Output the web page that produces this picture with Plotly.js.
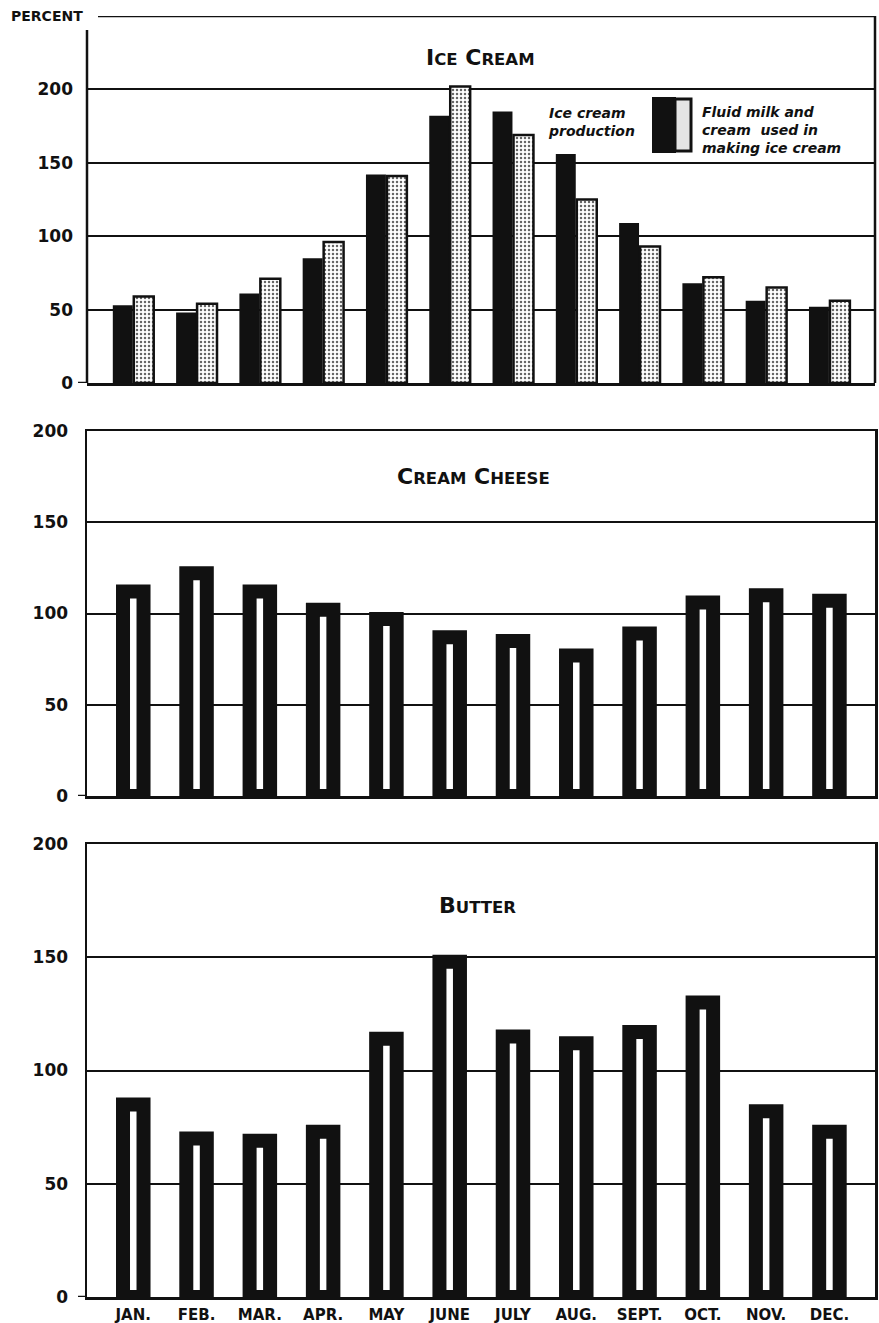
<!DOCTYPE html>
<html><head><meta charset="utf-8">
<script src="https://cdn.plot.ly/plotly-3.0.1.min.js"></script>
<style>html,body{margin:0;padding:0;background:#fff}</style>
</head><body><div id="chart" style="width:879px;height:1323px"></div>
<script>
// ---- data (percent of monthly average) ----
const months = ['JAN.','FEB.','MAR.','APR.','MAY','JUNE','JULY','AUG.','SEPT.','OCT.','NOV.','DEC.'];
const iceCreamProduction = [53, 48, 61, 85, 142, 182, 185, 156, 109, 68, 56, 52];
const fluidMilkCream     = [59, 54, 71, 96, 141, 202, 169, 125, 93, 72, 65, 56];
const creamCheese        = [112, 122, 112, 102, 97, 87, 85, 77, 89, 106, 110, 107];
const butter             = [85, 70, 69, 73, 114, 148, 115, 112, 117, 130, 82, 73];
const yTicks = [0, 50, 100, 150, 200];

// ---- layout geometry (pixels) ----
const W = 879, H = 1323, L = 87, R = 4, T = 16, B = 26;
const PW = W - L - R, PH = H - T - B;
const px = x => (x - L) / PW;
const py = y => (H - B - y) / PH;
const FONT = 'DejaVu Sans';
const INK = '#111';

const traces = [
  {type:'bar', x: months, y: iceCreamProduction, xaxis:'x', yaxis:'y',
   marker:{color:INK, line:{width:0}}, name:'Ice cream production'},
  {type:'bar', x: months, y: fluidMilkCream, xaxis:'x', yaxis:'y',
   marker:{color:'#fff', line:{color:INK, width:2.5},
           pattern:{shape:'.', fgcolor:'#666', bgcolor:'#fff', size:4, solidity:0.3}},
   name:'Fluid milk and cream used in making ice cream'},
  {type:'bar', x: months, y: creamCheese, xaxis:'x2', yaxis:'y2', width:0.324,
   marker:{color:'#fff', line:{color:INK, width:14}}, name:'Cream cheese'},
  {type:'bar', x: months, y: butter, xaxis:'x3', yaxis:'y3', width:0.324,
   marker:{color:'#fff', line:{color:INK, width:14}}, name:'Butter'}
];

const tickFont = {family: FONT, size: 17, color: INK, weight: 'bold'};
function xAx(anchor, mirror, labels) {
  return {type:'category', anchor: anchor, range:[-0.731, 11.72], showgrid:false, zeroline:false,
    showline:true, mirror: mirror, linecolor:INK, linewidth:2.5, ticks:'',
    showticklabels: labels, tickfont:{family:FONT, size:15, color:INK, weight:'bold'},
    ticklabelstandoff: 2, fixedrange:true};
}
function yAx(anchor, domain, range, line) {
  return {anchor: anchor, domain: domain, range: range, tickvals: yTicks, ticktext: yTicks.map(String),
    showgrid:true, gridcolor:INK, gridwidth:2, zeroline:false, showline: line, mirror: line,
    linecolor:INK, linewidth:2.5, ticks:'', tickfont: tickFont, ticklabelstandoff: 13, fixedrange:true};
}

const lineStyle = {color:INK, width:2.5};
const shapes = [
  // panel 1 open frame
  {type:'line', xref:'paper', yref:'y', x0:0, x1:0, y0:0, y1:240.5, line:lineStyle},
  {type:'line', xref:'paper', yref:'y', x0:px(98), x1:1, y0:250, y1:250, line:lineStyle},
  {type:'line', xref:'paper', yref:'y', x0:1, x1:1, y0:0, y1:250, line:lineStyle},
  // small lead-ins at zero
  {type:'line', xref:'paper', yref:'y', x0:px(78), x1:0, y0:0, y1:0, line:lineStyle},
  {type:'line', xref:'paper', yref:'y2', x0:px(78), x1:0, y0:0, y1:0, line:lineStyle},
  {type:'line', xref:'paper', yref:'y3', x0:px(78), x1:0, y0:0, y1:0, line:lineStyle},
  // legend swatch
  {type:'rect', xref:'paper', yref:'paper', x0:px(653), x1:px(675), y0:py(152), y1:py(98),
   fillcolor:INK, line:{color:INK, width:2}},
  {type:'rect', xref:'paper', yref:'paper', x0:px(675), x1:px(691), y0:py(151), y1:py(99),
   fillcolor:'#e4e4e4', line:{color:INK, width:3}}
];

const titleFont = {family: FONT, size: 22, color: INK, weight: 'bold'};
const sc = s => '<span style="font-size:16.5px">' + s + '</span>';
const legFont = {family: FONT, size: 14, color: INK, weight: 'bold', style: 'italic'};
const annotations = [
  {text:'PERCENT', xref:'paper', yref:'paper', x:px(9), y:py(16), xanchor:'left', yanchor:'middle',
   showarrow:false, font:{family:FONT, size:14, color:INK, weight:'bold'}},
  {text:'I' + sc('CE') + ' C' + sc('REAM'), xref:'paper', yref:'paper', x:px(480), y:py(57),
   xanchor:'center', yanchor:'middle', showarrow:false, font:titleFont},
  {text:'C' + sc('REAM') + ' C' + sc('HEESE'), xref:'paper', yref:'paper', x:px(473), y:py(477),
   xanchor:'center', yanchor:'middle', showarrow:false, font:titleFont},
  {text:'B' + sc('UTTER'), xref:'paper', yref:'paper', x:px(477), y:py(905),
   xanchor:'center', yanchor:'middle', showarrow:false, font:titleFont},
  {text:'Ice cream<br>production', xref:'paper', yref:'paper', x:px(546), y:py(122),
   xanchor:'left', yanchor:'middle', align:'left', showarrow:false, font:legFont},
  {text:'Fluid milk and<br>cream  used in<br>making ice cream', xref:'paper', yref:'paper', x:px(700), y:py(130),
   xanchor:'left', yanchor:'middle', align:'left', showarrow:false, font:legFont}
];

const layout = {
  width: W, height: H, margin:{l:L, r:R, t:T, b:B},
  paper_bgcolor:'#fff', plot_bgcolor:'#fff', showlegend:false,
  barmode:'group', bargap:0.337, bargroupgap:0.05,
  xaxis: xAx('y', false, false),
  xaxis2: xAx('y2', true, false),
  xaxis3: xAx('y3', true, true),
  yaxis: yAx('x', [py(383), 1], [0, 250], false),
  yaxis2: yAx('x2', [py(796), py(431)], [0, 200], true),
  yaxis3: yAx('x3', [0, py(844)], [0, 200], true),
  shapes: shapes, annotations: annotations, hovermode:false
};

Plotly.newPlot('chart', traces, layout, {displayModeBar:false, staticPlot:true});
</script></body></html>
